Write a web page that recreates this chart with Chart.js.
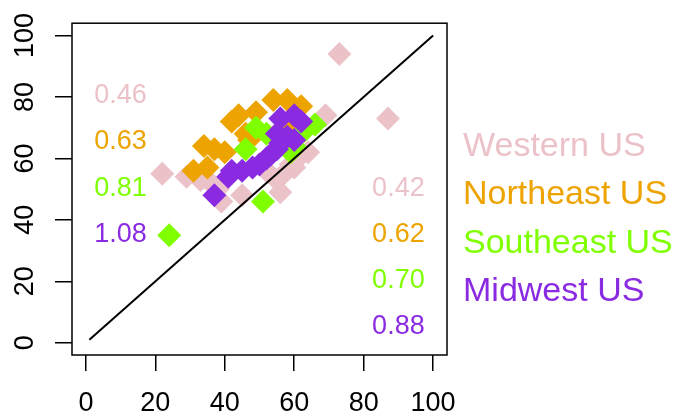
<!DOCTYPE html>
<html>
<head>
<meta charset="utf-8">
<script src="https://cdn.jsdelivr.net/npm/chart.js@4.4.1/dist/chart.umd.min.js"></script>
<style>
  html, body { margin: 0; padding: 0; background: #fff; }
  canvas { display: block; }
</style>
</head>
<body>
<canvas id="chart" width="682" height="417"></canvas>
<script>
// Region names (legend) and the per-region numbers printed inside the plot
const regions = ['Western US', 'Northeast US', 'Southeast US', 'Midwest US'];
const leftValues = ['0.46', '0.63', '0.81', '1.08'];
const rightValues = ['0.42', '0.62', '0.70', '0.88'];

// Tick labels
const xTicks = [0, 20, 40, 60, 80, 100];
const yTicks = [0, 20, 40, 60, 80, 100];

// Reference line end points
const lineX = [1, 100];
const lineY = [1, 100];

// Western US
const westX = [22, 29, 33, 36, 38, 39, 45, 52, 55, 56, 57, 59, 60, 61, 64, 69, 73, 87];
const westY = [55, 54, 53, 52, 50, 46, 48, 56, 53, 49, 55, 58, 57, 60, 62, 74, 94, 73];

// Northeast US
const neX = [31, 35, 34, 37, 40, 42, 44, 46, 47, 49, 54, 58, 62, 58];
const neY = [56, 57, 64, 63, 62, 72, 74, 68, 66, 75, 79, 79, 77, 69];

// Southeast US
const seX = [24, 46, 49, 52, 59, 60, 63, 66, 51];
const seY = [35, 63, 70, 68, 62, 64, 69, 71, 46];

// Midwest US
const mwX = [37, 41, 42, 45, 48, 50, 52, 53, 55, 56, 58, 55, 56, 60, 62, 60];
const mwY = [48, 54, 56, 56, 57, 58, 60, 61, 63, 65, 67, 68, 73, 74, 72, 66];

const colours = ['#ecc2c9', '#eea400', '#7fff00', '#8a2be2'];
const FONT = '"Liberation Sans", Arial, Helvetica, sans-serif';

const pts = (xs, ys) => xs.map((x, i) => ({ x: x, y: ys[i] }));

function scatterSet(label, xs, ys, colour, order) {
  return {
    type: 'scatter',
    label: label,
    data: pts(xs, ys),
    backgroundColor: colour,
    borderWidth: 0,
    pointStyle: 'rectRot',
    pointRadius: 12,
    pointHoverRadius: 12,
    order: order
  };
}

// frame, in-plot numbers and the text-only legend on the right
const extras = {
  id: 'extras',
  afterDatasetsDraw(chart) {
    const { ctx, chartArea, scales } = chart;
    ctx.save();
    ctx.strokeStyle = '#000';
    ctx.lineWidth = 1.5;
    ctx.strokeRect(chartArea.left, chartArea.top,
                   chartArea.right - chartArea.left, chartArea.bottom - chartArea.top);

    ctx.font = '27px ' + FONT;
    ctx.textAlign = 'center';
    ctx.textBaseline = 'middle';
    leftValues.forEach((t, i) => {
      ctx.fillStyle = colours[i];
      ctx.fillText(t, scales.x.getPixelForValue(10), scales.y.getPixelForValue(80 - 15 * i) - 1);
    });
    rightValues.forEach((t, i) => {
      ctx.fillStyle = colours[i];
      ctx.fillText(t, scales.x.getPixelForValue(90), scales.y.getPixelForValue(50 - 15 * i) - 1);
    });

    ctx.font = '34px ' + FONT;
    ctx.textAlign = 'left';
    regions.forEach((t, i) => {
      ctx.fillStyle = colours[i];
      ctx.fillText(t, chartArea.right + 16, chartArea.top + 123 + 48.5 * i);
    });
    ctx.restore();
  }
};

new Chart(document.getElementById('chart'), {
  data: {
    datasets: [
      {
        type: 'line',
        data: pts(lineX, lineY),
        borderColor: '#000',
        borderWidth: 2,
        pointRadius: 0,
        fill: false,
        order: 0
      },
      scatterSet(regions[3], mwX, mwY, colours[3], 1),
      scatterSet(regions[2], seX, seY, colours[2], 2),
      scatterSet(regions[1], neX, neY, colours[1], 3),
      scatterSet(regions[0], westX, westY, colours[0], 4)
    ]
  },
  options: {
    responsive: false,
    animation: false,
    events: [],
    layout: { padding: { left: 0, top: 17, right: 235, bottom: 0 } },
    plugins: {
      legend: { display: false },
      tooltip: { enabled: false }
    },
    scales: {
      x: {
        type: 'linear',
        min: -4,
        max: 104,
        afterBuildTicks: s => { s.ticks = xTicks.map(v => ({ value: v })); },
        afterFit: s => { s.height = 62; },
        border: { display: false },
        grid: { drawOnChartArea: false, drawTicks: true, tickLength: 16, color: '#000', lineWidth: 1.5 },
        ticks: { color: '#000', font: { family: FONT, size: 27 }, padding: 16, maxRotation: 0 }
      },
      y: {
        type: 'linear',
        min: -4,
        max: 104,
        afterBuildTicks: s => { s.ticks = yTicks.map(v => ({ value: v })); },
        afterFit: s => { s.width = 72; },
        border: { display: false },
        grid: { drawOnChartArea: false, drawTicks: true, tickLength: 17, color: '#000', lineWidth: 1.5 },
        ticks: { color: '#000', font: { family: FONT, size: 27 }, padding: 7,
                 minRotation: 90, maxRotation: 90, crossAlign: 'center' }
      }
    }
  },
  plugins: [extras]
});
</script>
</body>
</html>
